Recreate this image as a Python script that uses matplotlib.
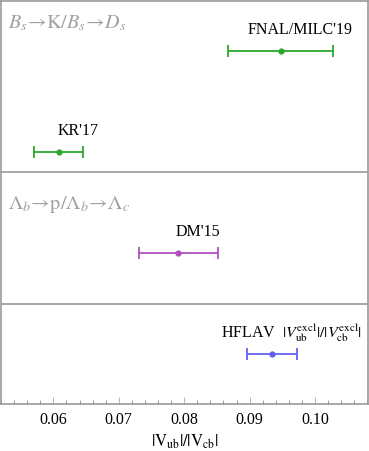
import numpy as np
import matplotlib.pyplot as plt
from matplotlib.ticker import MultipleLocator, FormatStrFormatter

plt.rcParams['font.family'] = 'Liberation Serif'
plt.rcParams['mathtext.fontset'] = 'stix'

# measurements of |Vub|/|Vcb|
labels = ["FNAL/MILC'19", "KR'17", "DM'15",
          r"HFLAV  $|V_{\mathrm{ub}}^{\mathrm{excl}}|/|V_{\mathrm{cb}}^{\mathrm{excl}}|$"]
central = [0.0948, 0.0608, 0.0791, 0.0935]
lower = [0.0867, 0.0571, 0.0731, 0.0896]
upper = [0.1027, 0.0645, 0.0851, 0.0973]
colors = ['#2ca82c', '#2ca82c', '#b050bc', '#6262f2']

# row positions (top to bottom) and panel separators
rows = [50, 151, 252, 353]
dividers = [171, 303]
groups = [(r'$B_s\!\rightarrow\!\mathrm{K}/B_s\!\rightarrow\!D_s$', 22),
          (r'$\Lambda_b\!\rightarrow\!\mathrm{p}/\Lambda_b\!\rightarrow\!\Lambda_c$', 203)]

fig = plt.figure(figsize=(3.69, 4.51), dpi=100)
ax = fig.add_axes([1 / 369, 1 - 404 / 451, 367 / 369, 403 / 451])

for x, lo, hi, y, c, lab in zip(central, lower, upper, rows, colors, labels):
    ax.errorbar(x, y, xerr=[[x - lo], [hi - x]], fmt='o', color=c, ms=3.5,
                elinewidth=1.3, capsize=4, capthick=1.3)
    ax.annotate(lab, (x, y), xytext=(14, 15), textcoords='offset points',
                ha='center', va='center', fontsize=11.5, color='black')

for d in dividers:
    ax.axhline(d, color='#999999', lw=1.2)

for txt, y in groups:
    ax.text(0.0530, y, txt, fontsize=14.5, color='#a0a0a0', va='center', ha='left')

ax.set_xlim(0.0520, 0.1081)
ax.set_ylim(402.5, 0)
ax.set_yticks([])
ax.xaxis.set_major_locator(MultipleLocator(0.01))
ax.xaxis.set_minor_locator(MultipleLocator(0.002))
ax.xaxis.set_major_formatter(FormatStrFormatter('%.2f'))
ax.tick_params(axis='x', which='major', direction='in', length=5, color='#bbbbbb',
               labelsize=11.5, pad=6)
ax.tick_params(axis='x', which='minor', direction='in', length=3, color='#888888')
for s in ax.spines.values():
    s.set_color('#999999')
    s.set_linewidth(1.2)

ax.set_xlabel(r'$|\mathrm{V}_{\mathrm{ub}}|/|\mathrm{V}_{\mathrm{cb}}|$', fontsize=12, labelpad=3)

fig.savefig('out.png', dpi=100)
